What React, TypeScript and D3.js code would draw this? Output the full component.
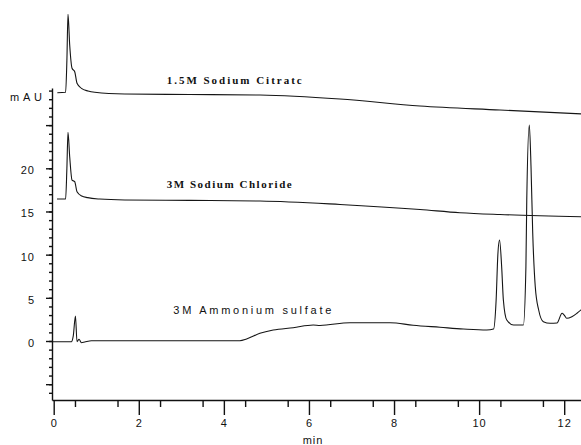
import React, { useEffect, useRef } from 'react';
import * as d3 from 'd3';

// retention time (min) / absorbance (mAU) pairs
const citrateTime = [0.085, 0.28, 0.31, 0.336, 0.376, 0.431, 0.494, 0.548, 0.652, 0.807, 0.965, 1.67, 3.2, 4.85, 6.73, 8.61, 10.49, 12.4];
const citrateAbs = [28.75, 28.8, 32.5, 37.83, 34.28, 31.58, 31.19, 29.84, 29.26, 28.95, 28.8, 28.6, 28.55, 28.49, 28.03, 27.21, 26.75, 26.3];

const chlorideTime = [0.078, 0.28, 0.31, 0.336, 0.376, 0.431, 0.494, 0.548, 0.659, 0.8, 1.08, 1.67, 3.2, 4.85, 6.73, 8.61, 9.55, 10.49, 12.4];
const chlorideAbs = [16.44, 16.44, 20.0, 24.17, 21.34, 18.64, 18.45, 17.29, 16.79, 16.6, 16.44, 16.33, 16.28, 16.21, 15.81, 15.23, 14.86, 14.65, 14.39];

const sulfateTime = [-0.04, 0.416, 0.46, 0.511, 0.548, 0.595, 0.652, 0.729, 0.887, 2.5, 4.376, 4.534, 4.847, 5.16, 5.63, 6.1, 6.26, 6.96, 7.91, 8.45, 9.08, 9.63, 10.18, 10.34, 10.4, 10.44, 10.48, 10.53, 10.57, 10.65, 10.81, 11.04, 11.1, 11.12, 11.18, 11.22, 11.26, 11.32, 11.4, 11.51, 11.67, 11.83, 11.95, 12.0, 12.06, 12.18, 12.3, 12.41];
const sulfateAbs = [-0.08, -0.08, 0.6, 2.9, -0.08, 0.2, -0.2, -0.12, 0.03, 0.03, 0.03, 0.23, 0.89, 1.27, 1.54, 1.85, 1.8, 2.12, 2.12, 1.82, 1.59, 1.39, 1.27, 1.39, 4.75, 9.96, 11.7, 8.6, 4.75, 2.43, 1.85, 1.85, 8.6, 16.33, 25.01, 20.19, 12.51, 6.29, 3.59, 2.24, 2.05, 2.08, 3.21, 3.01, 2.63, 2.81, 3.21, 3.67];

const yTickLabels = [0, 5, 10, 15, 20];
const xTickLabels = [0, 2, 4, 6, 8, 10, 12];

const W = 581;
const H = 445;

export default function App() {
  const xAxisRef = useRef<SVGGElement>(null);
  const yAxisRef = useRef<SVGGElement>(null);

  const x = d3.scaleLinear().domain([0, 12]).range([53.7, 564.2]);
  const y = d3.scaleLinear().domain([0, 20]).range([341, 168.3]);

  const line = d3.line<[number, number]>()
    .x(d => x(d[0]))
    .y(d => y(d[1]))
    .curve(d3.curveMonotoneX);

  const traces = [
    d3.zip(citrateTime, citrateAbs) as [number, number][],
    d3.zip(chlorideTime, chlorideAbs) as [number, number][],
    d3.zip(sulfateTime, sulfateAbs) as [number, number][],
  ];

  useEffect(() => {
    // axis scales span the drawn frame, same mapping as x / y
    const xa = x.copy().domain([x.invert(52), x.invert(581)]).range([52, 581]);
    const ya = y.copy().domain([y.invert(400), y.invert(88)]).range([400, 88]);
    const font = 'Liberation Sans, Arial, sans-serif';

    const gx = d3.select(xAxisRef.current!);
    gx.selectAll('*').remove();
    gx.append('g')
      .call(d3.axisBottom(xa).tickValues(d3.range(0.5, 12.5, 1)).tickSize(7).tickSizeOuter(0).tickFormat(() => ''));
    gx.append('g')
      .call(d3.axisBottom(xa).tickValues(xTickLabels).tickSize(15).tickPadding(4).tickSizeOuter(0))
      .call(g => g.select('.domain').remove());
    gx.selectAll('path, line').attr('stroke', '#111').attr('stroke-width', 1.4);
    gx.selectAll('text').attr('font-size', 11).attr('font-family', font).attr('letter-spacing', 1).attr('fill', '#111');

    const gy = d3.select(yAxisRef.current!);
    gy.selectAll('*').remove();
    gy.append('g')
      .call(d3.axisLeft(ya).tickValues(d3.range(-6, 30, 1)).tickSize(3).tickSizeOuter(0).tickFormat(() => ''));
    gy.append('g')
      .call(d3.axisLeft(ya).tickValues([-5, 25]).tickSize(6).tickFormat(() => ''))
      .call(g => g.select('.domain').remove());
    gy.append('g')
      .call(d3.axisLeft(ya).tickValues(yTickLabels).tickSize(6).tickPadding(11))
      .call(g => g.select('.domain').remove());
    gy.selectAll('path, line').attr('stroke', '#111').attr('stroke-width', 1.4);
    gy.selectAll('text').attr('font-size', 11).attr('font-family', font).attr('letter-spacing', 1)
      .attr('dy', '0.5em').attr('fill', '#111');
  }, []);

  return (
    <svg width={W} height={H} style={{ position: 'absolute', left: 0, top: 0, background: '#fff' }}>
      <rect width={W} height={H} fill="#fff" />
      {traces.map((t, i) => (
        <path key={i} d={line(t) || ''} fill="none" stroke="#151515" strokeWidth={1.1} strokeLinejoin="round" />
      ))}
      <g ref={xAxisRef} transform="translate(0,400)" />
      <g ref={yAxisRef} transform="translate(52,0)" />

      <text x={166.7} y={84} textLength={135} lengthAdjust="spacing" fontFamily="Liberation Serif, Times New Roman, serif"
        fontWeight="bold" fontSize={11} fill="#111">1.5M Sodium Citratc</text>
      <text x={166.7} y={187.7} textLength={125} lengthAdjust="spacing" fontFamily="Liberation Serif, Times New Roman, serif"
        fontWeight="bold" fontSize={11} fill="#111">3M Sodium Chloride</text>
      <text x={173.3} y={314} textLength={158} lengthAdjust="spacing" fontFamily="Liberation Sans, Arial, sans-serif"
        fontSize={11} fill="#111">3M Ammonium sulfate</text>

      <text x={10} y={101} textLength={32} lengthAdjust="spacing" fontFamily="Liberation Sans, Arial, sans-serif"
        fontSize={11} fill="#111">mAU</text>
      <text x={313} y={444} textAnchor="middle" fontFamily="Liberation Sans, Arial, sans-serif" letterSpacing={1}
        fontSize={11} fill="#111">min</text>
    </svg>
  );
}
